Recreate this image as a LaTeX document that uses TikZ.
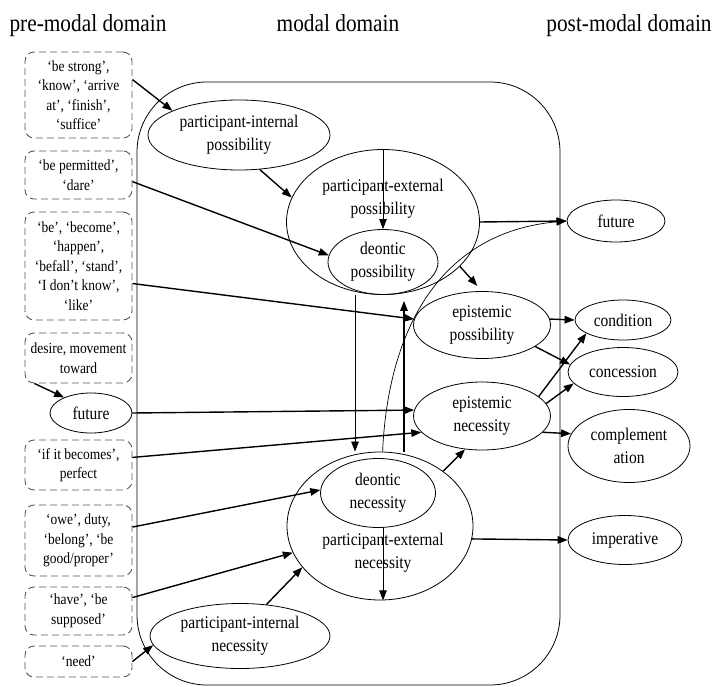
\documentclass[tikz,border=0pt]{standalone}
\usepackage{fontspec}
\setmainfont{Liberation Serif}[FakeStretch=0.87]
\usetikzlibrary{shapes.geometric,arrows.meta}

\tikzset{
  boite/.style={draw=black!65, dash pattern=on 7pt off 4pt, line width=0.9pt, rounded corners=9pt,
    minimum width=107pt, align=center, inner sep=1pt, font=\fontsize{15.5}{19.5}\selectfont},
  bulle/.style={draw, ellipse, line width=0.8pt, align=center, inner sep=0pt, font=\fontsize{17.8}{23}\selectfont},
  texte/.style={align=center, inner sep=0pt, font=\fontsize{17.8}{23}\selectfont},
  titre/.style={font=\fontsize{24.5}{27}\selectfont, anchor=base},
  fleche/.style={-{Triangle[length=10pt,width=7.5pt]}, line width=1.4pt},
  fil/.style={-{Triangle[length=10pt,width=7.5pt]}, line width=0.7pt},
}

\begin{document}
\begin{tikzpicture}[x=1pt,y=-1pt]
\useasboundingbox (0,0) rectangle (712,687);
% les domaines
\node[titre] (tpre) at (88,32) {pre-modal domain};
\node[titre] (tmod) at (338,32) {modal domain};
\node[titre] (tpost) at (629,32) {post-modal domain};
\draw[line width=0.8pt, rounded corners=70] (137,82) rectangle (560,685);

% domaine pre-modal
\node[boite, minimum height=86] (b1) at (78.5,95) {‘be strong’,\\ ‘know’, ‘arrive\\ at’, ‘finish’,\\ ‘suffice’};
\node[boite, minimum height=48] (b2) at (78.5,175) {‘be permitted’,\\ ‘dare’};
\node[boite, minimum height=108] (b3) at (78.5,266) {‘be’, ‘become’,\\ ‘happen’,\\ ‘befall’, ‘stand’,\\ ‘I don’t know’,\\ ‘like’};
\node[boite, minimum height=50] (b4) at (78.5,358) {desire, movement\\ toward};
\node[bulle, minimum width=82, minimum height=40] (fut1) at (91,413) {future};
\node[boite, minimum height=50] (b6) at (78.5,465) {‘if it becomes’,\\ perfect};
\node[boite, minimum height=71] (b7) at (78.5,540.5) {‘owe’, duty,\\ ‘belong’, ‘be\\ good/proper’};
\node[boite, minimum height=48] (b8) at (78.5,611) {‘have’, ‘be\\ supposed’};
\node[boite, minimum height=31] (b9) at (78.5,661.5) {‘need’};

% domaine modal
\node[bulle, minimum width=182, minimum height=70] (pip) at (239,135) {participant-internal\\possibility};
\node[bulle, minimum width=193, minimum height=145] (pep) at (383,222) {};
\node[texte] (pept) at (383,199) {participant-external\\possibility};
\node[bulle, minimum width=110, minimum height=65] (dp) at (383,262) {deontic\\possibility};
\node[bulle, minimum width=137, minimum height=67] (ep) at (482,325) {epistemic\\possibility};
\node[bulle, minimum width=137, minimum height=68] (en) at (482,416) {epistemic\\necessity};
\node[bulle, minimum width=186, minimum height=148] (pen) at (380,526) {};
\node[texte] (pent) at (383,553) {participant-external\\necessity};
\node[bulle, minimum width=115, minimum height=69] (dn) at (378,493) {deontic\\necessity};
\node[bulle, minimum width=180, minimum height=65] (pin) at (240,636) {participant-internal\\necessity};

% domaine post-modal
\node[bulle, minimum width=98, minimum height=42] (fut2) at (616,221) {future};
\node[bulle, minimum width=96, minimum height=40] (cond) at (623,320) {condition};
\node[bulle, minimum width=110, minimum height=49] (conc) at (623,372) {concession};
\node[bulle, minimum width=122, minimum height=73] (compl) at (629,446) {complement\\ation};
\node[bulle, minimum width=114, minimum height=49] (imp) at (625,540) {imperative};

% les fleches
\draw[fleche] (b1.16) -- (pip.160);
\draw[fleche] (pip.-59) -- (pep.165);
\draw[fleche] (b2.-7) -- (dp.173);
\draw[fil] (pep.north) -- (dp.north);
\draw[fleche] (pep.east) -- (fut2.west);
\draw[fil] (pen.88) .. controls (388,330) and (440,232) .. (fut2.west);
\draw[fleche, shorten >=7pt] (pep.-30) -- (ep.north);
\draw[fleche] (b3.-18) -- (ep.175);
\draw[fleche, shorten >=6pt] ([xshift=24]pen.north) -- ([xshift=21]dp.south);
\draw[fil] ([xshift=-28]dp.south) -- ([xshift=-25]pen.north);
\draw[fleche] (b4.210) -- (fut1.150);
\draw[fleche] (fut1.east) -- (en.175);
\draw[fleche] (b6.8) -- (en.195);
\draw[fleche] (pen.41) -- (en.243);
\draw[fleche] (ep.5) -- (cond.west);
\draw[fleche] (ep.-22) -- (conc.172);
\draw[fleche] (en.19) -- (cond.200);
\draw[fleche] (en.11) -- (conc.193);
\draw[fleche] (en.-15) -- (compl.168);
\draw[fleche] (b7.14) -- (dn.177);
\draw[fleche] (b8.14) -- (pen.197);
\draw[fleche] (pin.50) -- (pen.208);
\draw[fleche] (b9.east) -- (pin.186);
\draw[fil] ([xshift=5]dn.south) -- ([xshift=3]pen.south);
\draw[fleche] (pen.-8) -- (imp.west);
\end{tikzpicture}
\end{document}
